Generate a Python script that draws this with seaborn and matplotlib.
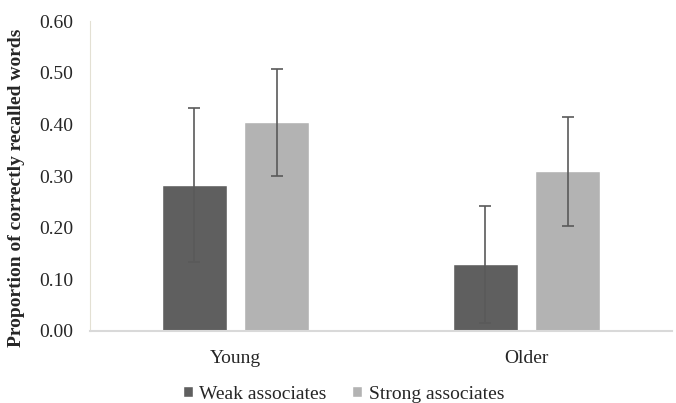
import numpy as np
import pandas as pd
import seaborn as sns
import matplotlib.pyplot as plt

sns.set_style("white")
plt.rcParams['font.family'] = 'serif'
plt.rcParams['font.serif'] = ['Liberation Serif']

# data
groups = ["Young", "Older"]
conditions = ["Weak associates", "Strong associates"]
weak_means = [0.283, 0.129]
strong_means = [0.404, 0.309]
weak_err = [0.149, 0.114]
strong_err = [0.104, 0.105]

df = pd.DataFrame({
    "group": groups * 2,
    "condition": [conditions[0]] * 2 + [conditions[1]] * 2,
    "value": weak_means + strong_means,
    "err": weak_err + strong_err,
})

fig = plt.figure(figsize=(6.76, 4.03), dpi=100)
ax = fig.add_axes([0.133, 0.179, 0.861, 0.768])

sns.barplot(data=df, x="group", y="value", hue="condition",
            palette=["#5f5f5f", "#b3b3b3"], width=0.568, gap=0.212,
            errorbar=None, saturation=1, ax=ax)

# error bars on the bar centres
for cont, cond in zip(ax.containers, conditions):
    sub = df[df.condition == cond]
    xs = [p.get_x() + p.get_width() / 2 for p in cont.patches]
    ax.errorbar(xs, sub.value.values, yerr=sub.err.values, fmt="none",
                ecolor="#5a5a5a", elinewidth=1.2, capsize=4, capthick=1.2)

ax.set_xlim(-0.5, 1.5)
ax.set_ylim(0, 0.60)
ax.set_yticks(np.arange(0, 0.61, 0.10))
ax.set_yticklabels([f"{v:.2f}" for v in np.arange(0, 0.61, 0.10)])
ax.tick_params(axis="both", labelsize=14, length=0)
ax.tick_params(axis="y", pad=12)
ax.tick_params(axis="x", pad=14)
ax.set_xlabel("")
ax.set_ylabel("Proportion of correctly recalled words", fontsize=14,
              fontweight="bold")
ax.yaxis.set_label_coords(-0.112, 0.461)

for s in ["top", "right"]:
    ax.spines[s].set_visible(False)
ax.spines["left"].set_color("#e3e0d3")
ax.spines["bottom"].set_color("#d9d9d9")
ax.spines["bottom"].set_linewidth(1.5)

ax.legend(loc="center", bbox_to_anchor=(0.508, 0.022), bbox_transform=fig.transFigure,
          ncol=2, frameon=False, fontsize=14,
          handlelength=0.5, handleheight=0.5, handletextpad=0.35, columnspacing=1.3)

fig.savefig("out.png", dpi=100)
plt.close()
